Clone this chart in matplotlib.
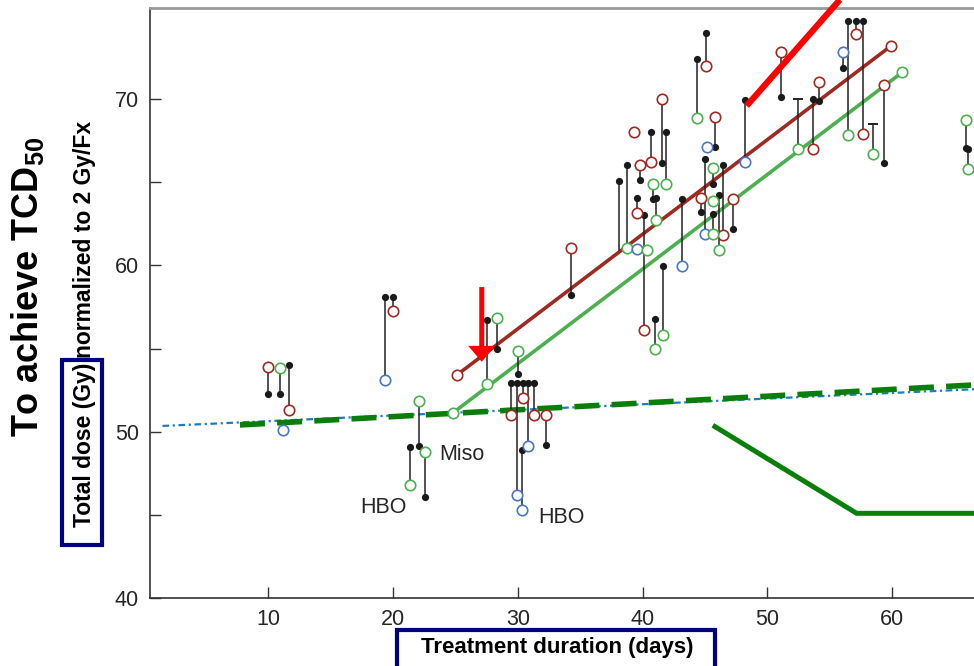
import matplotlib.pyplot as plt
from matplotlib.patches import Rectangle

# vertical pairs: x, black dot y (None = no dot), open circle y, circle colour
seg_x = [9.98, 10.91, 11.66, 11.18, 19.33, 20.00, 22.04, 21.34, 22.57,
         25.13, 24.81, 27.49, 28.29, 29.98, 29.44, 29.90, 30.38, 30.83, 31.31,
         30.30, 32.25, 34.22,
         38.12, 38.72, 39.28, 39.78, 39.57, 39.52, 40.10, 40.32, 40.69, 40.80,
         41.10, 41.01, 41.52, 41.84, 41.65, 43.15, 44.38, 45.08, 45.13, 45.80,
         44.97, 45.66, 46.46, 45.61, 44.70, 46.14, 45.66, 47.27, 48.20,
         51.11, 52.45, 53.63, 54.14, 56.09, 56.49, 57.08, 57.67, 59.94, 60.82,
         59.33, 58.49, 65.93, 66.11]
dot_y = [52.25, 52.25, 54.02, None, 58.10, 58.10, 49.14, 49.06, 46.08,
         None, None, 56.73, 54.96, 53.49, 52.93, 52.93, 52.93, 52.93, 52.93,
         48.90, 49.18, 58.23,
         65.10, 66.02, None, 65.16, 64.08, None, 63.05, None, 68.04, 64.00,
         64.04, 56.79, 66.17, 68.01, 59.96, 64.00, 72.43, 74.00, None, 67.13,
         66.43, 64.92, 66.05, None, 63.19, 64.24, 63.10, 62.19, 69.98,
         70.14, None, 70.04, 69.90, 71.91, 74.74, 74.74, 74.74, None, None,
         66.17, None, 67.07, 67.03]
circ_y = [53.86, 53.80, 51.31, 50.10, 53.11, 57.23, 51.83, 46.77, 48.76,
          53.42, 51.14, 52.87, 56.83, 54.88, 50.99, 46.17, 52.05, 49.14, 50.99,
          45.27, 50.99, 61.05,
          60.94, 61.08, 68.04, 66.05, 63.16, 61.01, 56.13, 60.94, 66.20, 64.88,
          62.73, 54.96, 70.02, 64.88, 55.83, 59.98, 68.86, 72.03, 67.13, 68.94,
          61.91, 65.84, 61.81, 63.86, 64.08, 60.95, 61.89, 64.00, 66.23,
          72.83, 67.01, 67.01, 71.02, 72.83, 67.86, 73.96, 67.92, 73.23, 71.63,
          70.87, 66.73, 68.77, 65.83]
circ_c = ['r', 'g', 'r', 'b', 'b', 'r', 'g', 'g', 'g',
          'r', 'g', 'g', 'g', 'g', 'r', 'b', 'r', 'b', 'r',
          'b', 'r', 'r',
          '-', 'g', 'r', 'r', 'r', 'b', 'r', 'g', 'r', 'g',
          'g', 'g', 'r', 'g', 'g', 'b', 'g', 'r', 'b', 'r',
          'b', 'g', 'r', 'g', 'r', 'g', 'g', 'r', 'b',
          'r', 'g', 'r', 'r', 'b', 'g', 'r', 'r', 'r', 'g',
          'r', 'g', 'g', 'g']

# pairs topped with a bar instead of a dot
cap_x = [52.45, 58.49]
cap_y = [70.04, 68.49]

# fitted / reference lines
brown_fit_x = [25.13, 59.94]
brown_fit_y = [53.42, 73.23]
green_fit_x = [24.81, 60.82]
green_fit_y = [51.14, 71.63]
blue_x = [1.5, 66.6]
blue_y = [50.34, 52.55]
dgreen_dash_x = [7.71, 66.6]
dgreen_dash_y = [50.40, 52.81]
red_x = [48.34, 55.82]
red_y = [69.61, 76.0]
dgreen_x = [45.8, 57.16, 66.6]
dgreen_y = [50.30, 45.08, 45.08]
arrow_x = 27.1
arrow_y = [58.7, 54.2]

labels = [('Miso', 25.5, 48.6), ('HBO', 19.25, 45.46), ('HBO', 33.45, 44.8)]

colors = {'r': '#9e2b22', 'g': '#4cb050', 'b': '#4a76c6'}

plt.rcParams['font.family'] = ['Liberation Sans', 'DejaVu Sans']
plt.rcParams['mathtext.fontset'] = 'custom'
plt.rcParams['mathtext.rm'] = 'Liberation Sans'
plt.rcParams['mathtext.bf'] = 'Liberation Sans:bold'

fig = plt.figure(figsize=(9.74, 6.66), dpi=100)
ax = fig.add_axes([150 / 974, (666 - 597.7) / 666, 1 - 150 / 974, (597.7 - 8) / 666])

ax.plot(blue_x, blue_y, color='#1f7bbf', lw=1.6, dashes=(3, 1.6, 1, 1.6), zorder=2)
ax.plot(dgreen_dash_x, dgreen_dash_y, color='#0a7d0a', lw=4, dashes=(4.5, 2.2), zorder=2)
ax.plot(brown_fit_x, brown_fit_y, color=colors['r'], lw=2.6, zorder=2)
ax.plot(green_fit_x, green_fit_y, color=colors['g'], lw=2.6, zorder=2)
ax.plot(dgreen_x, dgreen_y, color='#0a800a', lw=3.6, zorder=2, solid_joinstyle='miter')

for x, d, c, k in zip(seg_x, dot_y, circ_y, circ_c):
    if d is not None:
        ax.plot([x, x], [d, c], color='#222222', lw=1.1, zorder=3)
        ax.plot(x, d, 'o', color='#1a1a1a', ms=5.2, mec='none', zorder=4)
    if k in colors:
        ax.plot(x, c, 'o', mfc='white', mec=colors[k], mew=1.2, ms=7.5, zorder=5)

for x, t in zip(cap_x, cap_y):
    c = circ_y[seg_x.index(x)]
    ax.plot([x, x], [t, c], color='#222222', lw=1.1, zorder=3)
    ax.plot(x, t, '_', color='#222222', ms=7, mew=1.4, zorder=4)

ax.plot(red_x, red_y, color='red', lw=4.5, zorder=6, solid_capstyle='butt', clip_on=False)
ax.annotate('', xy=(arrow_x, arrow_y[1]), xytext=(arrow_x, arrow_y[0]),
            arrowprops=dict(facecolor='red', edgecolor='none', width=3.6,
                            headwidth=19.5, headlength=11.5, shrink=0), zorder=6)

for s, x, y in labels:
    ax.text(x, y, s, fontsize=15.5, color='#262626', ha='center', va='center', zorder=6)

ax.set_xlim(0.5, 66.57)
ax.set_ylim(40, 75.5)
ax.set_xticks([10, 20, 30, 40, 50, 60])
ax.set_yticks([40, 45, 50, 55, 60, 65, 70])
ax.set_yticklabels(['40', '', '50', '', '60', '', '70'])
ax.tick_params(direction='in', length=8, width=1, colors='#333333',
               labelsize=15.5, labelcolor='#262626', pad=8)
ax.tick_params(axis='x', top=False)
for s in ['left', 'bottom']:
    ax.spines[s].set_color('#333333')
    ax.spines[s].set_linewidth(1.2)
ax.spines['top'].set_color('#999999')
ax.spines['top'].set_linewidth(2)
ax.spines['right'].set_visible(False)

# axis labels with navy boxes
fig.text(28 / 974, (666 - 287) / 666, 'To achieve TCD$_{\\mathbf{50}}$', rotation=90,
         fontsize=26, fontweight='bold', ha='center', va='center')
fig.text(85 / 974, (666 - 363) / 666, 'Total dose (Gy)', rotation=90,
         fontsize=16.5, fontweight='bold', ha='center', va='top')
fig.text(85 / 974, (666 - 358) / 666, 'normalized to 2 Gy/Fx', rotation=90,
         fontsize=16.5, fontweight='bold', ha='center', va='bottom')
fig.patches.append(Rectangle((62 / 974, (666 - 545) / 666), 40 / 974, 185 / 666,
                             transform=fig.transFigure, fill=False,
                             edgecolor='#000080', lw=3))
fig.text(556.9 / 974, 18 / 666, 'Treatment duration (days)', fontsize=16,
         fontweight='bold', ha='center', va='center')
fig.patches.append(Rectangle((396.7 / 974, -0.05), 318.3 / 974, 0.05 + 36 / 666,
                             transform=fig.transFigure, fill=False,
                             edgecolor='#000080', lw=3))

fig.savefig('out.png', dpi=100)
